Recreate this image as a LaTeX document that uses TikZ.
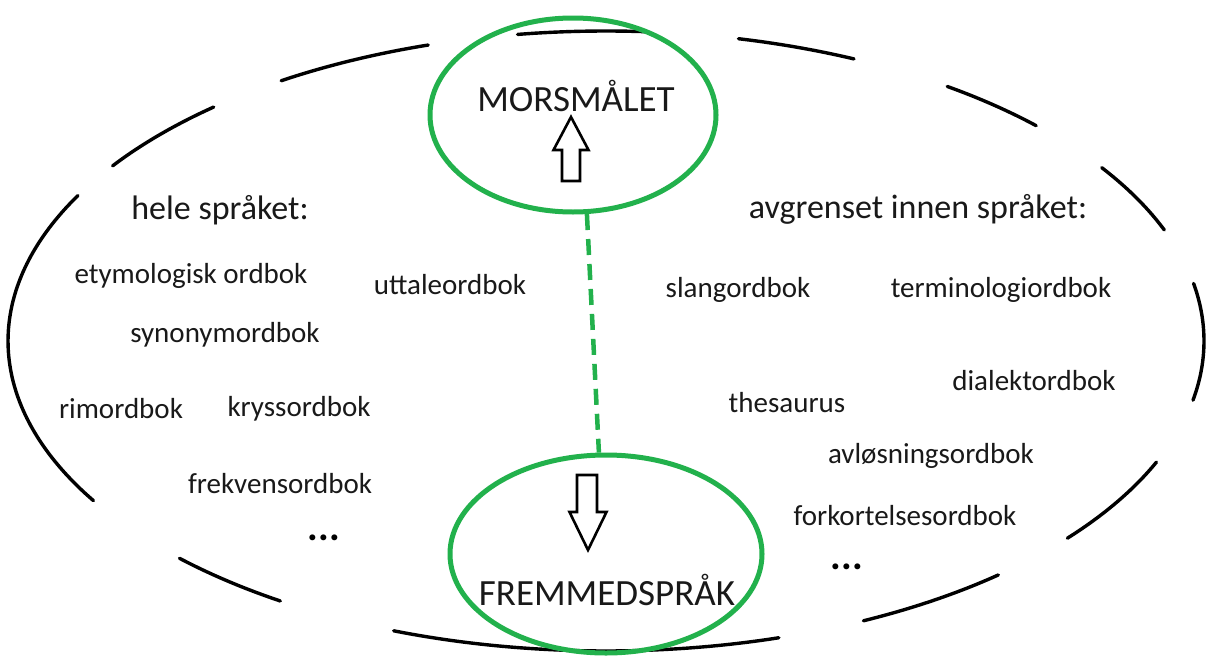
\documentclass[tikz,border=0pt]{standalone}
\usepackage{fontspec}
\setmainfont{Carlito}
\usetikzlibrary{shapes.geometric}
\definecolor{paintgreen}{RGB}{34,177,76}
\begin{document}
\begin{tikzpicture}[x=1pt,y=-1pt,
  outerseg/.style={line width=3.4pt, black, line cap=round},
  ring/.style={draw=paintgreen, line width=5pt, ellipse, inner sep=0pt},
  greendash/.style={draw=paintgreen, line width=4.5pt, dash pattern=on 16pt off 9pt},
  blockarrow/.style={draw=black, line width=2.6pt, line join=miter, fill=white},
  lbl/.style={font=\fontsize{29}{34}\selectfont, inner sep=0pt, text=black!90},
  headlbl/.style={font=\fontsize{34}{40}\selectfont, inner sep=0pt, text=black!90},
  biglbl/.style={font=\fontsize{37}{44}\selectfont, inner sep=0pt, text=black!90},
  dotslbl/.style={font=\bfseries\fontsize{40}{44}\selectfont, inner sep=0pt}]
\useasboundingbox[fill=white] (0,0) rectangle (1210,656);

% outer dashed (hand-drawn) ellipse: centre (606,341), rx 598, ry 310
\foreach \a/\b in {86/98.5, 65.5/77.2, 44/55.2, 21/34, -11/10.7, -39.5/-23, -64.5/-49,
                   -110.8/-73.2, 224.5/237, 152/211, 131/145.6, 107.3/122.9}{
  \draw[outerseg] plot[domain=\a:\b, samples=40, smooth] ({606+598*cos(\x)}, {341-310*sin(\x)});
}

% green rings
\node[ring, minimum width=286pt, minimum height=194pt] (morsring) at (573,115) {};
\node[ring, minimum width=312pt, minimum height=198pt] (fremring) at (606,554) {};

% green dashed link
\draw[greendash] (morsring.-82) -- (fremring.94);

% titles
\node[biglbl] (mors) at (576,96) {MORSMÅLET};
\node[biglbl] (frem) at (607,590) {FREMMEDSPRÅK};

% block arrows
\draw[blockarrow] (562,181) -- (562,150) -- (553.5,150) -- (571,117) -- (588.5,150)
  -- (580,150) -- (580,181) -- cycle;
\draw[blockarrow] (577,475) -- (597,475) -- (597,512) -- (606.5,512) -- (588,550)
  -- (569.5,512) -- (577,512) -- cycle;

% headings
\node[headlbl] (hele) at (220,210) {hele språket:};
\node[headlbl] (avgr) at (918,209) {avgrenset innen språket:};

% left group
\node[lbl] (etym) at (191,276) {etymologisk ordbok};
\node[lbl] (utta) at (450,285) {uttaleordbok};
\node[lbl] (syno) at (225,335) {synonymordbok};
\node[lbl] (rimo) at (121,409) {rimordbok};
\node[lbl] (krys) at (299,409) {kryssordbok};
\node[lbl] (frek) at (280,484) {frekvensordbok};
\node[dotslbl] (dotsl) at (324,538) {...};

% right group
\node[lbl] (slan) at (738,290) {slangordbok};
\node[lbl] (term) at (1001,290) {terminologiordbok};
\node[lbl] (dial) at (1034,381) {dialektordbok};
\node[lbl] (thes) at (787,403) {thesaurus};
\node[lbl] (avlo) at (931,456) {avløsningsordbok};
\node[lbl] (fork) at (905,516) {forkortelsesordbok};
\node[dotslbl] (dotsr) at (847,567) {...};
\end{tikzpicture}
\end{document}
